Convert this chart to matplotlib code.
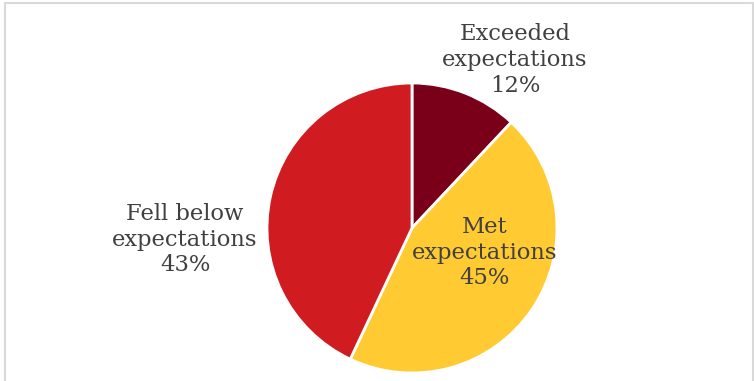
import matplotlib as mp
mp.use('Agg')
import matplotlib.pyplot as plt
from matplotlib.patches import Rectangle

# data
labels = ['Exceeded\nexpectations', 'Met\nexpectations', 'Fell below\nexpectations']
values = [12, 45, 43]
colors = ['#7a0019', '#ffca32', '#d01b21']
# label offsets (in pie radii)
label_pos = [(0.71, 1.16), (0.50, -0.17), (-1.565, -0.08)]

W, H = 754, 381
cx, cy, r = 412, 228, 145

fig = plt.figure(figsize=(W / 100, H / 100), dpi=100)
ax = fig.add_axes([0, 0, 1, 1])
ax.pie(values, colors=colors, startangle=90, counterclock=False, radius=1,
       wedgeprops=dict(edgecolor='white', linewidth=2))
ax.set_xlim(-cx / r, (W - cx) / r)
ax.set_ylim(-(H - cy) / r, cy / r)
ax.set_aspect('equal')
ax.axis('off')

for lab, v, (x, y) in zip(labels, values, label_pos):
    ax.text(x, y, '%s\n%d%%' % (lab, v), ha='center', va='center',
            fontsize=16.3, family='DejaVu Serif', color='#404040',
            linespacing=1.22)

# chart border
fig.patches.append(Rectangle((4.5 / W, -0.1), (753 - 4.5) / W, 1.1 - 2.5 / H,
                             transform=fig.transFigure, fill=False,
                             edgecolor='#d9d9d9', linewidth=1.5))

plt.savefig('out.png', dpi=100)
